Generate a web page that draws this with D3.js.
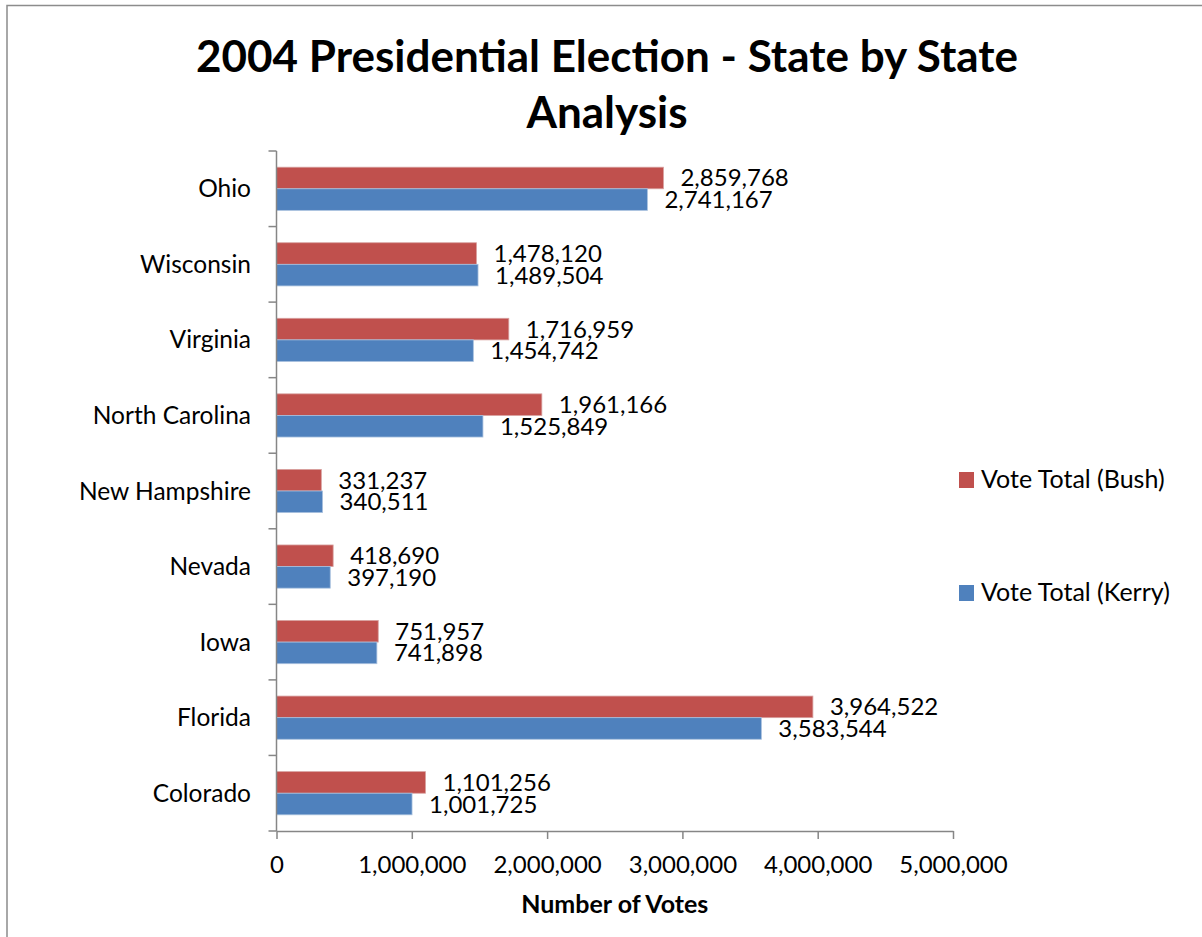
<!DOCTYPE html>
<html>
<head>
<meta charset="utf-8">
<script src="https://cdn.jsdelivr.net/npm/d3@7"></script>
<style>
  html, body { margin: 0; padding: 0; background: #fff; }
  svg { display: block; }
  text { font-family: Lato, "Open Sans", sans-serif; fill: #000; }
</style>
</head>
<body>
<svg id="chart" width="1202" height="937"></svg>
<script>
// 2004 presidential vote totals in swing states
const states = ["Ohio", "Wisconsin", "Virginia", "North Carolina", "New Hampshire",
                "Nevada", "Iowa", "Florida", "Colorado"];
const bushVotes  = [2859768, 1478120, 1716959, 1961166, 331237, 418690, 751957, 3964522, 1101256];
const kerryVotes = [2741167, 1489504, 1454742, 1525849, 340511, 397190, 741898, 3583544, 1001725];
const seriesNames = ["Vote Total (Bush)", "Vote Total (Kerry)"];
const seriesColors = ["#C0504D", "#4F81BD"];
const xTicks = [0, 1000000, 2000000, 3000000, 4000000, 5000000];
const titleLines = ["2004 Presidential Election - State by State", "Analysis"];
const xAxisTitle = "Number of Votes";

const svg = d3.select("#chart");
const axisColor = "#868686";

// chart frame
svg.append("rect")
  .attr("x", 7).attr("y", 5.5)
  .attr("width", 1300).attr("height", 1000)
  .attr("fill", "none").attr("stroke", "#8c8c8c").attr("stroke-width", 1.5);

// title
svg.append("g").selectAll("text").data(titleLines).join("text")
  .attr("x", 607).attr("y", (d, i) => 72 + i * 56)
  .attr("text-anchor", "middle")
  .style("font-size", "44px").style("font-weight", "bold")
  .text(d => d);

const x = d3.scaleLinear().domain([0, 5000000]).range([276.5, 953]);
const y = d3.scaleBand().domain(states).range([151, 831]).padding(0);
const sub = d3.scaleBand().domain([0, 1]).range([0, y.bandwidth()])
  .paddingInner(0).paddingOuter(0.75);

const rows = states.map((s, i) => ({ state: s, values: [bushVotes[i], kerryVotes[i]] }));
const fmt = d3.format(",");

// bars
const groups = svg.append("g").selectAll("g").data(rows).join("g")
  .attr("transform", d => `translate(0,${y(d.state)})`);

groups.selectAll("rect").data(d => d.values.map((v, k) => ({ v, k }))).join("rect")
  .attr("x", x(0))
  .attr("y", d => sub(d.k))
  .attr("width", d => x(d.v) - x(0))
  .attr("height", sub.bandwidth())
  .attr("fill", d => seriesColors[d.k])
  .attr("stroke", d => d.k === 0 ? "#d7a09f" : "#a8c0de")
  .attr("stroke-width", 0.8);

// value labels
groups.selectAll("text").data(d => d.values.map((v, k) => ({ v, k }))).join("text")
  .attr("x", d => x(d.v) + 17)
  .attr("y", d => sub(d.k) + sub.bandwidth() / 2 + 8.5)
  .style("font-size", "24px")
  .text(d => fmt(d.v));

// y axis: category labels, boundary tick marks
const yAxis = svg.append("g");
yAxis.append("line")
  .attr("x1", x(0)).attr("x2", x(0))
  .attr("y1", y.range()[0]).attr("y2", y.range()[1])
  .attr("stroke", axisColor).attr("stroke-width", 1.5);
const bounds = states.map(s => y(s)).concat([y.range()[1]]);
yAxis.selectAll(".tk").data(bounds).join("line")
  .attr("class", "tk")
  .attr("x1", x(0) - 8).attr("x2", x(0))
  .attr("y1", d => d).attr("y2", d => d)
  .attr("stroke", axisColor).attr("stroke-width", 1.5);
yAxis.selectAll("text").data(states).join("text")
  .attr("x", 251)
  .attr("y", d => y(d) + y.bandwidth() / 2 + 8.5)
  .attr("text-anchor", "end")
  .style("font-size", "24.5px")
  .text(d => d);

// x axis
const xAxis = svg.append("g").attr("transform", `translate(0,${y.range()[1]})`)
  .call(d3.axisBottom(x).tickValues(xTicks).tickFormat(fmt).tickSizeInner(8).tickSizeOuter(0));
xAxis.select(".domain").attr("stroke", axisColor).attr("stroke-width", 1.5);
xAxis.selectAll(".tick line").attr("stroke", axisColor).attr("stroke-width", 1.5);
xAxis.selectAll(".tick text")
  .attr("y", 42).attr("dy", 0)
  .style("font-size", "24px").style("font-family", "Lato, sans-serif").attr("fill", "#000");

svg.append("text")
  .attr("x", (x.range()[0] + x.range()[1]) / 2).attr("y", 913)
  .attr("text-anchor", "middle")
  .style("font-size", "25px").style("font-weight", "bold")
  .text(xAxisTitle);

// legend
const legend = svg.append("g").selectAll("g").data(seriesNames).join("g")
  .attr("transform", (d, i) => `translate(959,${472 + i * 113})`);
legend.append("rect")
  .attr("width", 15).attr("height", 16)
  .attr("fill", (d, i) => seriesColors[i]);
legend.append("text")
  .attr("x", 22).attr("y", 16)
  .style("font-size", "25px")
  .text(d => d);
</script>
</body>
</html>
